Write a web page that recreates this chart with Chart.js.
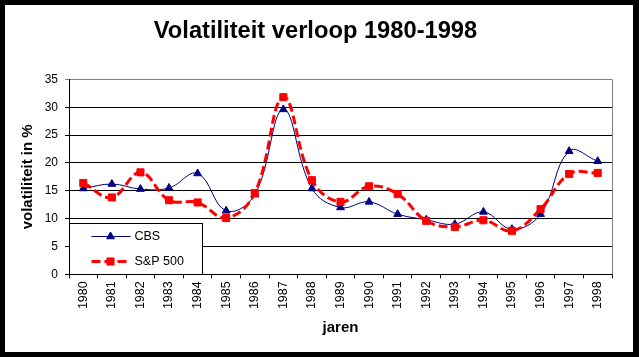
<!DOCTYPE html>
<html>
<head>
<meta charset="utf-8">
<script src="https://cdn.jsdelivr.net/npm/chart.js@4.4.0/dist/chart.umd.min.js"></script>
<style>
html,body{margin:0;padding:0;background:#fff;}
canvas{display:block;}
</style>
</head>
<body>
<canvas id="c" width="639" height="357"></canvas>
<script>
const years = ['1980','1981','1982','1983','1984','1985','1986','1987','1988','1989','1990','1991','1992','1993','1994','1995','1996','1997','1998'];
const cbs = [15.4,16.2,15.3,15.5,18.1,11.4,14.3,29.6,15.4,12.0,13.0,10.8,9.8,9.0,11.2,8.1,10.8,22.1,20.3];
const sp500 = [16.4,13.8,18.3,13.3,12.9,10.1,14.6,31.8,16.9,13.0,15.8,14.4,9.6,8.5,9.7,7.8,11.7,18.0,18.2];
const yTicks = [0,5,10,15,20,25,30,35];
const seriesNames = ['CBS','S&P 500'];
const titleText = 'Volatiliteit verloop 1980-1998';
const yTitle = 'volatiliteit in %';
const xTitle = 'jaren';

const FONT = '"Liberation Sans", Arial, sans-serif';

const framePlugin = {
  id: 'frame',
  beforeDraw(chart) {
    const ctx = chart.ctx;
    ctx.save();
    ctx.fillStyle = '#000';
    ctx.fillRect(0, 0, chart.width, chart.height);
    ctx.fillStyle = '#fff';
    ctx.fillRect(5, 5, 628, 347);
    ctx.restore();
  },
  beforeDatasetsDraw(chart) {
    const {ctx, chartArea: a} = chart;
    ctx.save();
    ctx.strokeStyle = '#808080';
    ctx.lineWidth = 1;
    ctx.beginPath();
    const x = Math.round(a.right) + 0.5;
    ctx.moveTo(x, Math.round(a.top) + 0.5);
    ctx.lineTo(x, a.bottom);
    ctx.stroke();
    ctx.restore();
  }
};

const legendPlugin = {
  id: 'boxLegend',
  afterDatasetsDraw(chart) {
    const {ctx, chartArea: a} = chart;
    const left = Math.round(a.left) + 0.5;
    const bottom = Math.round(a.bottom) + 0.5;
    const w = 133, h = 51;
    const top = bottom - h;
    ctx.save();
    ctx.fillStyle = '#fff';
    ctx.fillRect(left, top, w, h);
    ctx.strokeStyle = '#000';
    ctx.lineWidth = 1;
    ctx.strokeRect(left, top, w, h);
    const rows = [top + 13, top + 38];
    chart.data.datasets.forEach((ds, i) => {
      const y = rows[i];
      ctx.strokeStyle = ds.borderColor;
      ctx.lineWidth = ds.borderWidth;
      ctx.setLineDash(ds.borderDash || []);
      ctx.beginPath();
      ctx.moveTo(left + 22, y);
      ctx.lineTo(left + 61, y);
      ctx.stroke();
      ctx.setLineDash([]);
      ctx.fillStyle = ds.pointBackgroundColor;
      ctx.strokeStyle = ds.pointBorderColor;
      ctx.lineWidth = 1;
      Chart.helpers.drawPoint(ctx, {pointStyle: ds.pointStyle, radius: ds.pointRadius, borderWidth: 1}, left + 41, y);
      ctx.fillStyle = '#000';
      ctx.font = '12.5px ' + FONT;
      ctx.textBaseline = 'middle';
      ctx.textAlign = 'left';
      ctx.fillText(ds.label, left + 65, y + 0.5);
    });
    ctx.restore();
  }
};

new Chart(document.getElementById('c'), {
  type: 'line',
  data: {
    labels: years,
    datasets: [
      {
        label: seriesNames[0],
        data: cbs,
        borderColor: '#000080',
        backgroundColor: '#000080',
        borderWidth: 1,
        tension: 0.4,
        pointStyle: 'triangle',
        pointRadius: 4.5,
        pointBackgroundColor: '#000080',
        pointBorderColor: '#000080',
        pointBorderWidth: 1,
        fill: false,
        order: 1
      },
      {
        label: seriesNames[1],
        data: sp500,
        borderColor: '#ff0000',
        backgroundColor: '#ff0000',
        borderWidth: 3,
        borderDash: [9, 4],
        tension: 0.4,
        pointStyle: 'rect',
        pointRadius: 5,
        pointBackgroundColor: '#ff0000',
        pointBorderColor: '#ff0000',
        pointBorderWidth: 1,
        fill: false,
        order: 0
      }
    ]
  },
  options: {
    responsive: false,
    animation: false,
    devicePixelRatio: 1,
    layout: { padding: { left: 19, right: 27, top: 0, bottom: 20 } },
    plugins: {
      legend: { display: false },
      tooltip: { enabled: false },
      title: {
        display: true,
        text: titleText,
        color: '#000',
        font: { family: FONT, size: 23.7, weight: 'bold', lineHeight: 1.2 },
        padding: { top: 17, bottom: 33.9 }
      }
    },
    scales: {
      x: {
        type: 'category',
        offset: true,
        afterFit(s) { s.height = 62.7; },
        grid: {
          offset: true,
          drawOnChartArea: false,
          drawTicks: true,
          tickLength: 4,
          color: '#000',
          lineWidth: 1
        },
        border: { color: '#000', width: 1 },
        ticks: {
          color: '#000',
          font: { family: FONT, size: 12.5 },
          maxRotation: 90,
          minRotation: 90,
          autoSkip: false,
          padding: 3
        },
        title: {
          display: true,
          text: xTitle,
          color: '#000',
          font: { family: FONT, size: 15, weight: 'bold', lineHeight: 1.2 },
          padding: 0
        }
      },
      y: {
        min: 0,
        max: 35,
        afterFit(s) { s.width = 50; },
        afterBuildTicks(s) { s.ticks = yTicks.map(v => ({value: v})); },
        grid: {
          color: (c) => (c.tick && c.tick.value === 35) ? '#808080' : '#000',
          lineWidth: 1,
          drawTicks: true,
          tickLength: 4
        },
        border: { color: '#000', width: 1 },
        ticks: {
          color: '#000',
          font: { family: FONT, size: 12 },
          padding: 7,
          stepSize: 5
        },
        title: {
          display: true,
          text: yTitle,
          color: '#000',
          font: { family: FONT, size: 15, weight: 'bold', lineHeight: 1.2 },
          padding: 0
        }
      }
    }
  },
  plugins: [framePlugin, legendPlugin]
});
</script>
</body>
</html>
